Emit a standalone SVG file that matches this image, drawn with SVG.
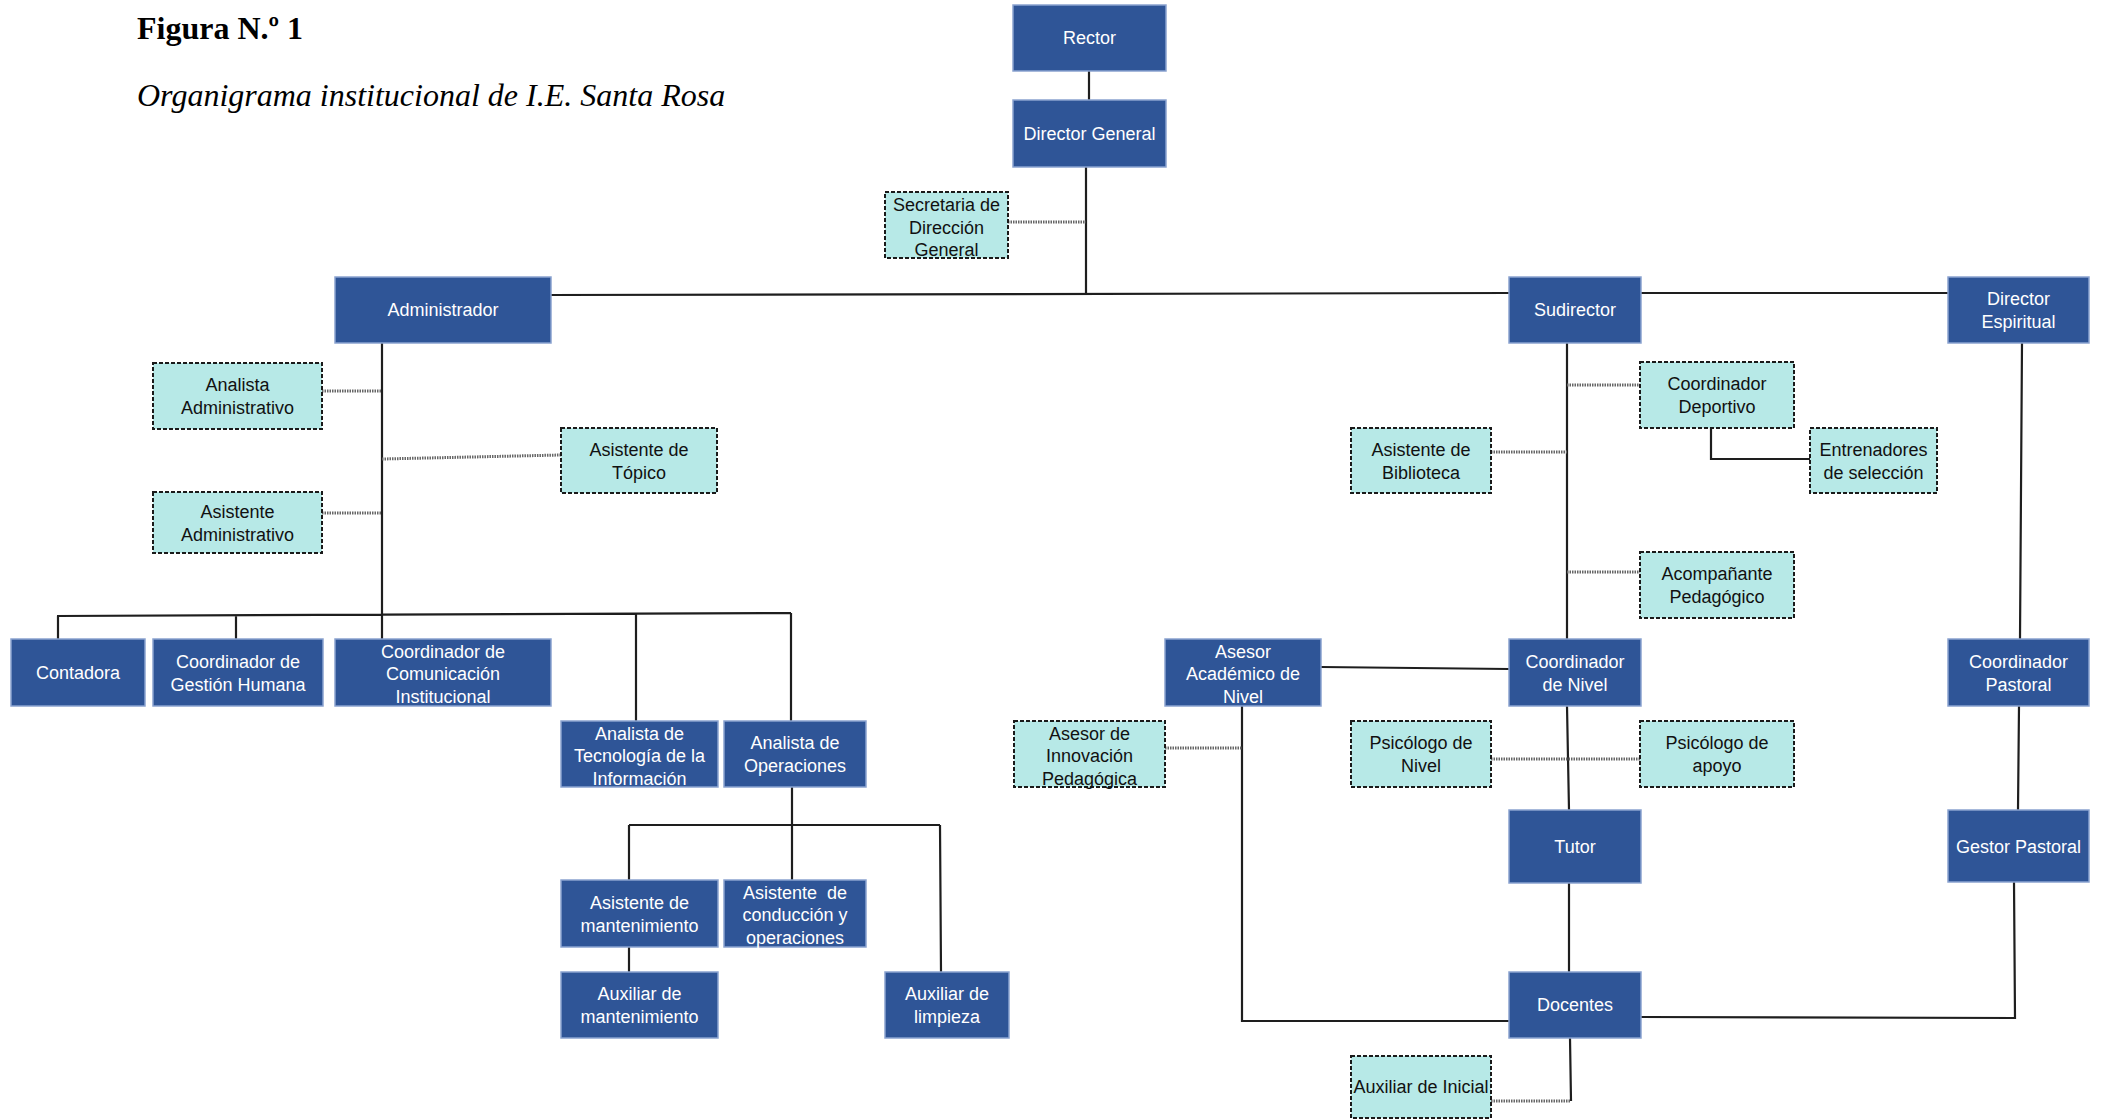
<svg xmlns="http://www.w3.org/2000/svg" width="2103" height="1120" viewBox="0 0 2103 1120">
<style>
.b rect{fill:#2f5597;stroke:#8aa3d0;stroke-width:1.5}
.c rect{fill:#b7e9e7;stroke:#1a1a1a;stroke-width:2;stroke-dasharray:4 2}
.b text{fill:#ffffff}
.c text{fill:#111111}
text{font-family:"Liberation Sans",Arial,sans-serif;font-size:18px;text-anchor:middle;white-space:pre}
.solid{fill:none;stroke:#1e1e1e;stroke-width:2.2}
.dot{fill:none;stroke:#666;stroke-width:3;stroke-dasharray:1.5 1}
.title{font-family:"Liberation Serif","Times New Roman",serif;font-size:32px;text-anchor:start;fill:#000}
</style>
<rect x="0" y="0" width="2103" height="1120" fill="#ffffff"/>
<text class="title" x="137" y="39" font-weight="bold">Figura N.º 1</text>
<text class="title" x="137" y="106" font-style="italic">Organigrama institucional de I.E. Santa Rosa</text>

<g id="connectors">
<path class="solid" d="M1089 71V100 M1086 167V295 M551 295L1509 293 M1641 293H1948 M382 343V639 M57 616L791 613 M58 616V639 M236 615V639 M636 614V721 M791 613V721 M792 787V825 M629 825H940 M629 825V880 M792 825V880 M940 825L941 972 M629 947V972 M1567 343V639 M1711 428V459H1810 M1321 667L1509 669 M2022 343L2020 639 M1567 706L1569 810 M2019 706L2018 810 M1569 883V972 M1242 706V1021H1509 M1641 1017L2015 1018L2014 882 M1570 1038L1571 1101"/>
<path class="dot" d="M1008 222H1086 M322 391H382 M382 459L561 455 M322 513H382 M1567 385H1640 M1491 452H1567 M1567 572H1640 M1165 748H1242 M1491 759H1640 M1491 1101H1571"/>
</g>

<g id="rector" class="b"><rect x="1013" y="5" width="153" height="66"/><text x="1089.5" y="44">Rector</text></g>
<g id="director-general" class="b"><rect x="1013" y="100" width="153" height="67"/><text x="1089.5" y="140">Director General</text></g>
<g id="secretaria" class="c"><rect x="885" y="192" width="123" height="66"/><text x="946.5" y="211">Secretaria de</text><text x="946.5" y="234">Dirección</text><text x="946.5" y="256">General</text></g>
<g id="administrador" class="b"><rect x="335" y="277" width="216" height="66"/><text x="443" y="316">Administrador</text></g>
<g id="sudirector" class="b"><rect x="1509" y="277" width="132" height="66"/><text x="1575" y="316">Sudirector</text></g>
<g id="director-espiritual" class="b"><rect x="1948" y="277" width="141" height="66"/><text x="2018.5" y="305">Director</text><text x="2018.5" y="328">Espiritual</text></g>
<g id="analista-administrativo" class="c"><rect x="153" y="363" width="169" height="66"/><text x="237.5" y="391">Analista</text><text x="237.5" y="414">Administrativo</text></g>
<g id="asistente-topico" class="c"><rect x="561" y="428" width="156" height="65"/><text x="639" y="456">Asistente de</text><text x="639" y="479">Tópico</text></g>
<g id="asistente-administrativo" class="c"><rect x="153" y="492" width="169" height="61"/><text x="237.5" y="518">Asistente</text><text x="237.5" y="541">Administrativo</text></g>
<g id="contadora" class="b"><rect x="11" y="639" width="134" height="67"/><text x="78" y="679">Contadora</text></g>
<g id="coordinador-gestion-humana" class="b"><rect x="153" y="639" width="170" height="67"/><text x="238" y="668">Coordinador de</text><text x="238" y="691">Gestión Humana</text></g>
<g id="coordinador-comunicacion" class="b"><rect x="335" y="639" width="216" height="67"/><text x="443" y="658">Coordinador de</text><text x="443" y="680">Comunicación</text><text x="443" y="703">Institucional</text></g>
<g id="analista-ti" class="b"><rect x="561" y="721" width="157" height="66"/><text x="639.5" y="740">Analista de</text><text x="639.5" y="762">Tecnología de la</text><text x="639.5" y="785">Información</text></g>
<g id="analista-operaciones" class="b"><rect x="724" y="721" width="142" height="66"/><text x="795" y="749">Analista de</text><text x="795" y="772">Operaciones</text></g>
<g id="asistente-mantenimiento" class="b"><rect x="561" y="880" width="157" height="67"/><text x="639.5" y="909">Asistente de</text><text x="639.5" y="932">mantenimiento</text></g>
<g id="asistente-conduccion" class="b"><rect x="724" y="880" width="142" height="67"/><text x="795" y="899">Asistente  de</text><text x="795" y="921">conducción y</text><text x="795" y="944">operaciones</text></g>
<g id="auxiliar-mantenimiento" class="b"><rect x="561" y="972" width="157" height="66"/><text x="639.5" y="1000">Auxiliar de</text><text x="639.5" y="1023">mantenimiento</text></g>
<g id="auxiliar-limpieza" class="b"><rect x="885" y="972" width="124" height="66"/><text x="947" y="1000">Auxiliar de</text><text x="947" y="1023">limpieza</text></g>
<g id="coordinador-deportivo" class="c"><rect x="1640" y="362" width="154" height="66"/><text x="1717" y="390">Coordinador</text><text x="1717" y="413">Deportivo</text></g>
<g id="entrenadores" class="c"><rect x="1810" y="428" width="127" height="65"/><text x="1873.5" y="456">Entrenadores</text><text x="1873.5" y="479">de selección</text></g>
<g id="asistente-biblioteca" class="c"><rect x="1351" y="428" width="140" height="65"/><text x="1421" y="456">Asistente de</text><text x="1421" y="479">Biblioteca</text></g>
<g id="acompanante-pedagogico" class="c"><rect x="1640" y="552" width="154" height="66"/><text x="1717" y="580">Acompañante</text><text x="1717" y="603">Pedagógico</text></g>
<g id="asesor-academico" class="b"><rect x="1165" y="639" width="156" height="67"/><text x="1243" y="658">Asesor</text><text x="1243" y="680">Académico de</text><text x="1243" y="703">Nivel</text></g>
<g id="coordinador-nivel" class="b"><rect x="1509" y="639" width="132" height="67"/><text x="1575" y="668">Coordinador</text><text x="1575" y="691">de Nivel</text></g>
<g id="coordinador-pastoral" class="b"><rect x="1948" y="639" width="141" height="67"/><text x="2018.5" y="668">Coordinador</text><text x="2018.5" y="691">Pastoral</text></g>
<g id="asesor-innovacion" class="c"><rect x="1014" y="721" width="151" height="66"/><text x="1089.5" y="740">Asesor de</text><text x="1089.5" y="762">Innovación</text><text x="1089.5" y="785">Pedagógica</text></g>
<g id="psicologo-nivel" class="c"><rect x="1351" y="721" width="140" height="66"/><text x="1421" y="749">Psicólogo de</text><text x="1421" y="772">Nivel</text></g>
<g id="psicologo-apoyo" class="c"><rect x="1640" y="721" width="154" height="66"/><text x="1717" y="749">Psicólogo de</text><text x="1717" y="772">apoyo</text></g>
<g id="tutor" class="b"><rect x="1509" y="810" width="132" height="73"/><text x="1575" y="853">Tutor</text></g>
<g id="gestor-pastoral" class="b"><rect x="1948" y="810" width="141" height="72"/><text x="2018.5" y="853">Gestor Pastoral</text></g>
<g id="docentes" class="b"><rect x="1509" y="972" width="132" height="66"/><text x="1575" y="1011">Docentes</text></g>
<g id="auxiliar-inicial" class="c"><rect x="1351" y="1056" width="140" height="62"/><text x="1421" y="1093">Auxiliar de Inicial</text></g>
</svg>
